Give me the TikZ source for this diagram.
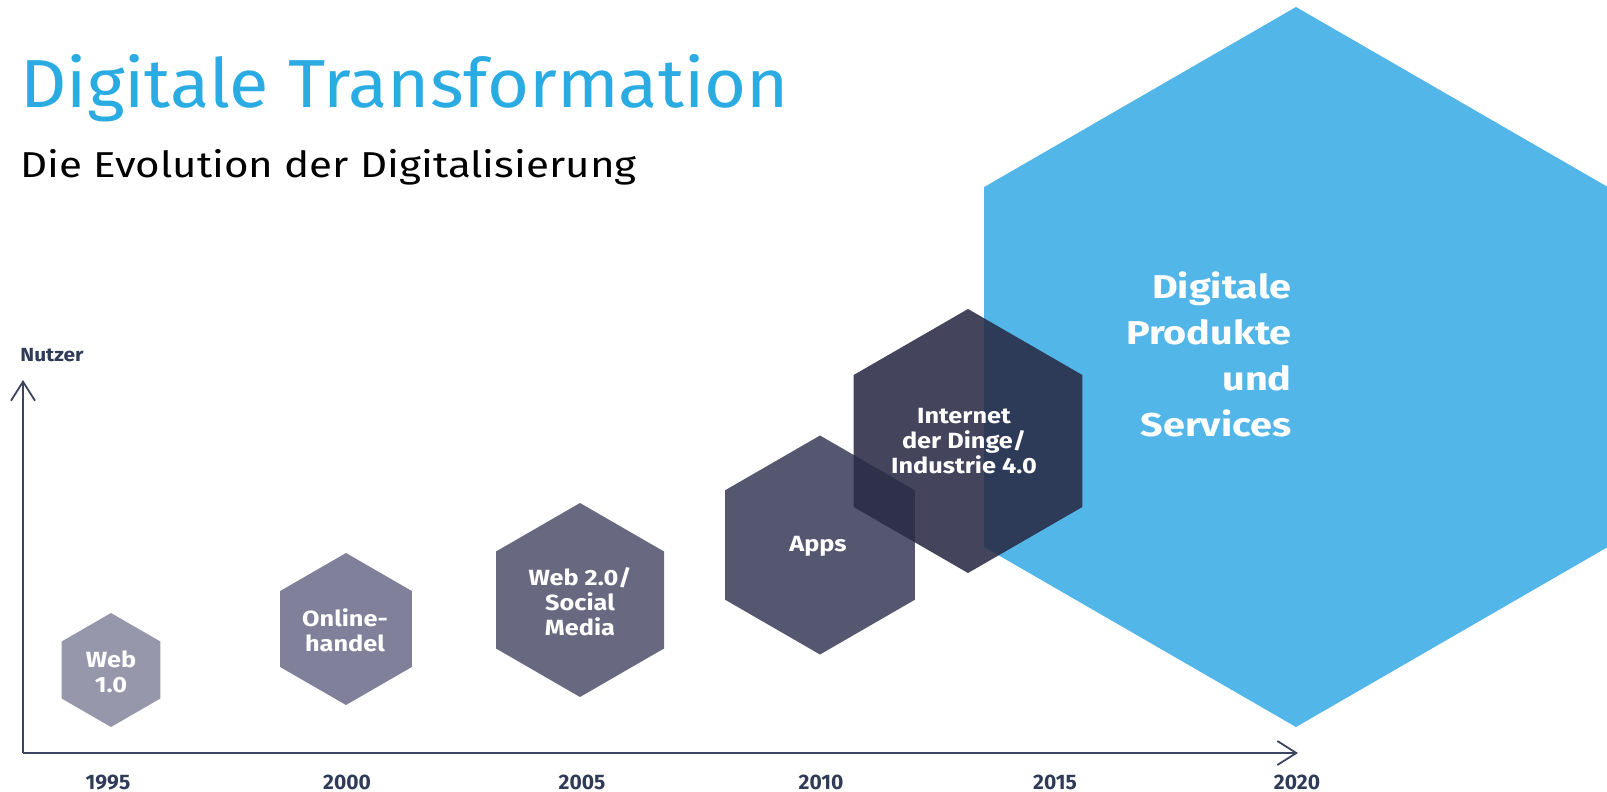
\documentclass[tikz,border=0pt]{standalone}
\usepackage{fontspec}
\setmainfont{Fira Sans}
\newfontfamily\titlefont[FakeStretch=1.06]{Fira Sans}
\newfontfamily\subfont[FakeStretch=1.17]{Fira Sans}
\newfontfamily\hexfont[FakeStretch=1.15]{Fira Sans}
\newfontfamily\bigfont[FakeStretch=1.2]{Fira Sans}
\newfontfamily\nutzfont[FakeStretch=1.1]{Fira Sans}
\usetikzlibrary{arrows.meta}
\definecolor{titleblue}{HTML}{2AACE2}
\definecolor{axiscol}{HTML}{3A4560}
\definecolor{yearcol}{HTML}{2F3B57}
\definecolor{hexA}{HTML}{9797AB}
\definecolor{hexB}{HTML}{80809A}
\definecolor{hexC}{HTML}{686880}
\definecolor{hexD}{HTML}{555770}
\definecolor{hexE}{HTML}{2A2B45}
\definecolor{hexBlue}{HTML}{53B6E8}
\newcommand\hexfill[4]{\fill[#4] (#1,#2) +(90:#3) -- +(30:#3) -- +(-30:#3) -- +(-90:#3) -- +(-150:#3) -- +(150:#3) -- cycle;}
\begin{document}
\begin{tikzpicture}[x=0.5pt,y=-0.5pt,
  hexlabel/.style={text=white,align=center,inner sep=0pt,font=\hexfont\bfseries\fontsize{11}{12.5}\selectfont},
  yearlabel/.style={text=yearcol,anchor=base,inner sep=0pt,font=\bfseries\fontsize{10.5}{12}\selectfont},
  axisline/.style={draw=axiscol,line width=1pt,-{Straight Barb[length=9.5pt,width=12pt,line width=0.9pt]}}]
\useasboundingbox (0,0) rectangle (1607,792);
% title
\node[anchor=base west,inner sep=0pt,text=titleblue,font=\titlefont\fontsize{34}{40}\selectfont] (title) at (20,108) {Digitale Transformation};
\node[anchor=base west,inner sep=0pt,text=black,font=\subfont\fontsize{18}{22}\selectfont] (subtitle) at (20,177) {Die Evolution der Digitalisierung};
% hexagons
\hexfill{111}{670}{57}{hexA}
\hexfill{346}{629}{76}{hexB}
\hexfill{580}{600}{97}{hexC}
\hexfill{820}{545}{109.5}{hexD}
\hexfill{1296}{367}{360}{hexBlue}
\hexfill{968}{441}{132}{hexE,opacity=0.88}
% labels
\node[hexlabel] (web1) at (111,672) {Web\\1.0};
\node[hexlabel] (online) at (345,630) {Online-\\handel};
\node[hexlabel] (web2) at (580,602) {Web 2.0/\\Social\\Media};
\node[hexlabel] (apps) at (818,546) {Apps};
\node[hexlabel] (iot) at (964,441) {Internet\\der Dinge/\\Industrie 4.0};
\node[text=white,align=right,anchor=east,inner sep=0pt,font=\bigfont\bfseries\fontsize{16.5}{23}\selectfont] (digital) at (1292,354) {Digitale\\Produkte\\und\\Services};
% axes
\coordinate (origin) at (23,753);
\coordinate (xend) at (1298,753);
\coordinate (yend) at (23,380);
\draw[axisline] (origin) -- (xend);
\draw[axisline] (origin) -- (yend);
\node[anchor=base west,inner sep=0pt,text=yearcol,font=\nutzfont\bfseries\fontsize{9.5}{11}\selectfont] (nutzer) at (20,361) {Nutzer};
\node[yearlabel] (y1995) at (108,789) {1995};
\node[yearlabel] (y2000) at (347,789) {2000};
\node[yearlabel] (y2005) at (582,789) {2005};
\node[yearlabel] (y2010) at (821,789) {2010};
\node[yearlabel] (y2015) at (1055,789) {2015};
\node[yearlabel] (y2020) at (1297,789) {2020};
\end{tikzpicture}
\end{document}
